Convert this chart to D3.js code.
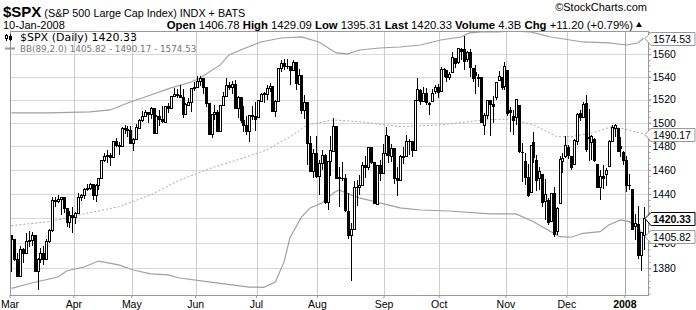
<!DOCTYPE html>
<html>
<head>
<meta charset="utf-8">
<script src="https://cdn.jsdelivr.net/npm/d3@7/dist/d3.min.js"></script>
<style>
  body { margin: 0; background: #fff; }
  svg { display: block; }
  text { font-family: "Liberation Sans", Arial, sans-serif; }
</style>
</head>
<body>
<svg id="chart" width="696" height="310"></svg>
<script>
// trading days, Mar 2007 - Jan 10 2008
var dates = [
  "2007-03-01","2007-03-02","2007-03-05","2007-03-06","2007-03-07","2007-03-08","2007-03-09","2007-03-12","2007-03-13","2007-03-14","2007-03-15","2007-03-16","2007-03-19","2007-03-20","2007-03-21","2007-03-22","2007-03-23","2007-03-26","2007-03-27","2007-03-28","2007-03-29","2007-03-30",
  "2007-04-02","2007-04-03","2007-04-04","2007-04-05","2007-04-09","2007-04-10","2007-04-11","2007-04-12","2007-04-13","2007-04-16","2007-04-17","2007-04-18","2007-04-19","2007-04-20","2007-04-23","2007-04-24","2007-04-25","2007-04-26","2007-04-27","2007-04-30",
  "2007-05-01","2007-05-02","2007-05-03","2007-05-04","2007-05-07","2007-05-08","2007-05-09","2007-05-10","2007-05-11","2007-05-14","2007-05-15","2007-05-16","2007-05-17","2007-05-18","2007-05-21","2007-05-22","2007-05-23","2007-05-24","2007-05-25","2007-05-29","2007-05-30","2007-05-31",
  "2007-06-01","2007-06-04","2007-06-05","2007-06-06","2007-06-07","2007-06-08","2007-06-11","2007-06-12","2007-06-13","2007-06-14","2007-06-15","2007-06-18","2007-06-19","2007-06-20","2007-06-21","2007-06-22","2007-06-25","2007-06-26","2007-06-27","2007-06-28","2007-06-29",
  "2007-07-02","2007-07-03","2007-07-05","2007-07-06","2007-07-09","2007-07-10","2007-07-11","2007-07-12","2007-07-13","2007-07-16","2007-07-17","2007-07-18","2007-07-19","2007-07-20","2007-07-23","2007-07-24","2007-07-25","2007-07-26","2007-07-27","2007-07-30","2007-07-31",
  "2007-08-01","2007-08-02","2007-08-03","2007-08-06","2007-08-07","2007-08-08","2007-08-09","2007-08-10","2007-08-13","2007-08-14","2007-08-15","2007-08-16","2007-08-17","2007-08-20","2007-08-21","2007-08-22","2007-08-23","2007-08-24","2007-08-27","2007-08-28","2007-08-29","2007-08-30","2007-08-31",
  "2007-09-04","2007-09-05","2007-09-06","2007-09-07","2007-09-10","2007-09-11","2007-09-12","2007-09-13","2007-09-14","2007-09-17","2007-09-18","2007-09-19","2007-09-20","2007-09-21","2007-09-24","2007-09-25","2007-09-26","2007-09-27","2007-09-28",
  "2007-10-01","2007-10-02","2007-10-03","2007-10-04","2007-10-05","2007-10-08","2007-10-09","2007-10-10","2007-10-11","2007-10-12","2007-10-15","2007-10-16","2007-10-17","2007-10-18","2007-10-19","2007-10-22","2007-10-23","2007-10-24","2007-10-25","2007-10-26","2007-10-29","2007-10-30","2007-10-31",
  "2007-11-01","2007-11-02","2007-11-05","2007-11-06","2007-11-07","2007-11-08","2007-11-09","2007-11-12","2007-11-13","2007-11-14","2007-11-15","2007-11-16","2007-11-19","2007-11-20","2007-11-21","2007-11-23","2007-11-26","2007-11-27","2007-11-28","2007-11-29","2007-11-30",
  "2007-12-03","2007-12-04","2007-12-05","2007-12-06","2007-12-07","2007-12-10","2007-12-11","2007-12-12","2007-12-13","2007-12-14","2007-12-17","2007-12-18","2007-12-19","2007-12-20","2007-12-21","2007-12-24","2007-12-26","2007-12-27","2007-12-28","2007-12-31",
  "2008-01-02","2008-01-03","2008-01-04","2008-01-07","2008-01-08","2008-01-09","2008-01-10"
];

var opens = [
  1406.80,1403.16,1387.11,1374.06,1395.02,1391.88,1401.89,1402.80,1406.23,1377.86,1387.11,1392.28,1386.95,1402.04,1410.92,1435.04,1434.54,1436.11,1437.49,1428.35,1417.17,1422.52,
  1420.83,1424.27,1437.75,1438.94,1443.77,1444.58,1448.23,1438.87,1447.80,1452.84,1468.47,1471.47,1472.48,1470.69,1484.33,1480.93,1480.44,1495.27,1494.21,1494.07,
  1482.37,1486.13,1495.56,1502.35,1505.57,1509.36,1507.32,1512.33,1491.47,1505.76,1503.11,1500.75,1514.01,1512.74,1522.75,1525.10,1524.09,1522.10,1507.50,1515.55,1517.60,1530.19,
  1530.62,1536.28,1539.12,1530.57,1517.36,1490.71,1507.64,1509.12,1492.65,1515.58,1522.97,1532.90,1531.02,1533.68,1512.50,1522.19,1502.56,1497.68,1492.62,1506.32,1505.70,
  1504.66,1519.12,1524.86,1524.96,1530.43,1531.85,1509.93,1518.74,1547.68,1552.50,1549.52,1549.20,1546.13,1553.19,1534.06,1541.57,1511.03,1518.09,1482.44,1458.93,1473.90,
  1455.18,1465.46,1472.18,1433.04,1467.62,1476.22,1497.21,1453.09,1453.42,1452.87,1426.15,1406.64,1411.26,1445.94,1445.55,1447.03,1464.05,1462.34,1479.36,1466.72,1432.01,1463.67,1457.61,
  1473.96,1488.76,1472.03,1478.55,1453.50,1451.69,1471.10,1471.47,1483.95,1484.24,1476.63,1519.75,1528.69,1518.75,1525.75,1516.34,1518.62,1527.32,1531.24,
  1527.29,1546.96,1545.80,1539.91,1543.84,1556.51,1553.18,1564.98,1564.72,1555.41,1562.25,1547.81,1544.44,1539.29,1540.00,1497.79,1506.33,1519.59,1516.15,1522.17,1536.92,1539.42,1532.15,
  1545.79,1511.07,1505.61,1505.33,1515.46,1475.27,1467.59,1453.66,1441.35,1483.40,1468.04,1453.09,1456.70,1434.51,1434.71,1417.62,1440.74,1409.59,1432.95,1467.41,1471.83,
  1479.63,1471.34,1465.22,1484.59,1508.60,1505.11,1516.68,1487.58,1483.27,1486.19,1465.05,1445.92,1454.70,1456.42,1463.19,1484.55,1495.12,1495.05,1479.83,1475.25,
  1467.97,1447.55,1444.01,1414.07,1415.71,1390.25,1406.78
];

var highs = [
  1406.80,1403.40,1391.86,1397.90,1396.10,1407.93,1410.15,1409.34,1406.23,1388.09,1395.73,1397.51,1403.20,1411.53,1437.77,1437.66,1438.89,1437.65,1437.49,1428.35,1426.24,1429.22,
  1425.49,1440.57,1440.16,1444.88,1448.10,1448.73,1448.39,1448.02,1453.11,1468.62,1474.35,1476.57,1474.23,1484.74,1487.32,1483.82,1496.59,1498.02,1497.32,1497.16,
  1487.27,1499.10,1503.34,1510.34,1511.00,1509.36,1513.80,1512.33,1506.24,1510.90,1514.83,1514.15,1517.14,1522.75,1529.87,1529.24,1532.43,1529.31,1517.41,1521.80,1530.23,1535.56,
  1540.56,1540.53,1539.12,1530.57,1517.36,1507.76,1515.53,1511.33,1515.70,1526.45,1538.71,1535.44,1535.85,1537.32,1522.90,1522.19,1514.29,1506.12,1506.80,1514.84,1517.53,
  1519.45,1526.01,1526.57,1532.40,1534.26,1531.85,1519.34,1547.92,1555.10,1555.90,1555.32,1549.20,1555.20,1553.19,1547.23,1541.57,1524.31,1518.09,1488.53,1477.88,1488.30,
  1468.38,1476.43,1473.23,1467.67,1488.30,1503.89,1497.21,1462.02,1466.29,1456.74,1440.78,1415.97,1450.33,1451.75,1455.32,1466.29,1472.06,1479.40,1479.36,1466.72,1463.76,1468.43,1481.47,
  1496.40,1488.76,1481.49,1478.55,1462.25,1472.48,1479.50,1489.58,1485.99,1484.24,1519.89,1538.74,1529.14,1530.89,1530.18,1518.27,1529.39,1532.46,1533.74,
  1549.02,1548.01,1545.84,1544.02,1561.91,1556.51,1565.26,1565.42,1576.09,1563.03,1564.74,1547.81,1550.66,1542.79,1540.00,1508.06,1520.01,1519.59,1523.24,1535.53,1544.67,1539.42,1552.76,
  1545.79,1513.15,1510.84,1520.77,1515.46,1482.50,1474.09,1464.94,1481.37,1492.14,1472.67,1462.18,1456.70,1452.64,1436.40,1440.86,1446.09,1429.49,1471.62,1473.81,1488.94,
  1481.16,1471.34,1486.09,1508.02,1510.63,1518.27,1523.57,1511.96,1489.40,1486.67,1465.05,1460.16,1464.42,1461.53,1485.40,1497.63,1498.85,1495.05,1488.01,1475.83,
  1471.77,1456.80,1444.01,1423.87,1430.28,1409.19,1429.09
];

var lows = [
  1377.71,1386.87,1373.97,1374.06,1385.16,1391.88,1397.30,1398.40,1377.71,1363.98,1385.16,1383.63,1386.95,1400.70,1409.75,1429.88,1433.21,1423.28,1425.54,1414.07,1413.27,1408.90,
  1416.33,1424.27,1435.08,1436.67,1443.28,1443.99,1436.15,1433.91,1444.15,1452.84,1467.15,1466.41,1464.47,1470.69,1480.19,1473.74,1480.44,1491.17,1488.67,1482.29,
  1476.70,1486.13,1495.56,1501.80,1505.54,1500.66,1503.77,1491.42,1491.47,1498.34,1500.43,1500.75,1509.29,1512.74,1522.71,1522.05,1521.90,1505.18,1507.50,1515.02,1510.06,1528.26,
  1530.62,1532.31,1525.62,1514.13,1490.37,1487.41,1503.35,1492.97,1492.65,1515.58,1522.97,1529.31,1525.67,1512.36,1504.75,1500.74,1492.68,1490.54,1484.18,1503.41,1493.61,
  1504.66,1519.12,1517.72,1520.47,1527.45,1510.01,1506.10,1518.74,1544.85,1546.69,1547.74,1533.67,1546.13,1529.20,1534.06,1508.62,1503.73,1465.30,1458.95,1454.32,1454.25,
  1439.59,1460.58,1432.80,1427.39,1455.80,1476.22,1453.09,1429.74,1451.54,1426.20,1404.36,1370.60,1411.26,1430.54,1439.76,1447.03,1453.88,1460.33,1465.98,1432.27,1432.01,1451.25,1457.61,
  1472.15,1466.34,1467.41,1449.07,1439.29,1451.69,1465.75,1471.47,1473.18,1471.82,1476.63,1519.75,1516.42,1518.75,1516.15,1507.13,1518.62,1525.81,1521.99,
  1527.25,1540.37,1536.34,1537.63,1543.84,1549.00,1551.82,1555.46,1546.72,1554.09,1540.81,1536.29,1526.01,1531.76,1500.26,1490.40,1503.61,1489.56,1500.46,1520.18,1536.92,1529.55,1529.40,
  1506.66,1492.53,1489.95,1499.07,1475.04,1450.31,1448.51,1438.53,1441.35,1466.47,1443.49,1443.99,1430.42,1419.28,1415.64,1417.62,1406.10,1407.43,1432.95,1458.36,1470.89,
  1470.08,1460.66,1465.22,1482.19,1502.66,1504.96,1475.99,1468.23,1469.21,1467.78,1445.43,1435.65,1445.31,1447.22,1463.19,1484.55,1488.20,1475.86,1471.70,1465.13,
  1442.07,1443.73,1411.19,1403.45,1388.30,1378.70,1395.31
];

var closes = [
  1403.17,1387.17,1374.12,1395.41,1391.97,1401.89,1402.84,1406.60,1377.95,1387.17,1392.28,1386.95,1402.06,1410.94,1435.04,1434.54,1436.11,1437.50,1428.61,1417.23,1422.53,1420.86,
  1424.55,1437.77,1439.37,1443.76,1444.61,1448.39,1438.87,1447.80,1452.85,1468.33,1471.48,1472.50,1470.73,1484.35,1480.93,1480.41,1495.42,1494.25,1494.07,1482.37,
  1486.30,1495.92,1502.39,1505.62,1509.48,1507.72,1512.58,1491.47,1505.85,1503.15,1501.19,1514.14,1512.75,1522.75,1525.10,1524.12,1522.28,1507.51,1515.73,1518.11,1530.23,1530.62,
  1536.34,1539.18,1530.95,1517.38,1490.72,1507.67,1509.12,1493.00,1515.67,1522.97,1532.91,1531.05,1533.70,1512.84,1522.19,1502.56,1497.74,1492.89,1506.34,1505.71,1503.35,
  1519.43,1524.87,1525.40,1530.44,1531.85,1510.12,1518.76,1547.70,1552.50,1549.52,1549.37,1546.17,1553.08,1534.10,1541.57,1511.04,1518.09,1482.66,1458.95,1473.91,1455.27,
  1465.81,1472.20,1433.06,1467.67,1476.71,1497.49,1453.09,1453.64,1452.92,1426.54,1406.70,1411.27,1445.94,1445.55,1447.12,1464.07,1462.50,1479.37,1466.79,1432.36,1463.76,1457.64,1473.99,
  1489.42,1472.29,1478.55,1453.55,1451.70,1471.49,1471.56,1483.95,1484.25,1476.65,1519.78,1529.03,1518.75,1525.75,1517.73,1517.21,1525.42,1531.38,1526.75,
  1547.04,1546.63,1539.59,1542.84,1557.59,1552.58,1565.15,1562.47,1554.41,1561.80,1548.71,1538.53,1541.24,1540.08,1500.63,1506.33,1519.59,1515.88,1514.40,1535.28,1540.98,1531.02,1549.38,
  1508.44,1509.65,1502.17,1520.27,1475.62,1474.77,1453.70,1439.18,1481.05,1470.58,1451.15,1458.74,1433.27,1439.70,1416.77,1440.70,1407.22,1428.23,1469.02,1469.72,1481.14,
  1472.42,1462.79,1485.01,1507.34,1504.66,1515.96,1477.65,1486.59,1488.41,1467.95,1445.90,1454.98,1453.00,1460.12,1484.46,1496.45,1497.66,1476.27,1478.49,1468.36,
  1447.16,1447.16,1411.63,1416.18,1390.19,1409.13,1420.33
];

// Bollinger bands (89, 2.0)
var bbUpperDates = ["2007-03-01","2007-03-20","2007-04-10","2007-04-19","2007-04-30","2007-05-09","2007-05-18","2007-05-30","2007-06-04","2007-06-13","2007-06-18","2007-06-22","2007-07-03","2007-07-13","2007-07-24","2007-08-01","2007-08-09","2007-08-15","2007-08-21","2007-08-30","2007-09-11","2007-09-20","2007-10-01","2007-10-10","2007-10-15","2007-10-19","2007-10-29","2007-11-02","2007-11-13","2007-11-23","2007-12-10","2007-12-21","2008-01-02","2008-01-08","2008-01-10"];
var bbUpper = [1508.4,1508.4,1509.3,1511.0,1517.9,1524.0,1530.2,1535.4,1538.9,1550.5,1559.4,1563.8,1571.0,1574.6,1575.5,1571.0,1561.2,1560.3,1563.8,1565.6,1566.5,1568.3,1572.8,1575.5,1579.2,1580.1,1580.1,1581.0,1580.1,1575.5,1571.0,1570.1,1568.3,1570.1,1574.53];

var bbMiddleDates = ["2007-03-01","2007-03-20","2007-04-05","2007-04-24","2007-05-09","2007-05-23","2007-06-11","2007-06-26","2007-07-06","2007-07-18","2007-07-26","2007-08-08","2007-08-21","2007-09-11","2007-10-01","2007-10-22","2007-11-02","2007-11-14","2007-11-27","2007-12-04","2007-12-13","2007-12-24","2008-01-03","2008-01-10"];
var bbMiddle = [1414.1,1417.3,1423.6,1429.5,1439.2,1451.6,1462.4,1470.8,1476.8,1487.8,1498.1,1502.4,1500.9,1496.6,1498.1,1502.4,1503.2,1498.1,1488.1,1488.1,1491.0,1496.6,1493.8,1490.17];

var bbLowerDates = ["2007-03-01","2007-03-12","2007-03-23","2007-03-28","2007-04-05","2007-04-13","2007-04-24","2007-05-01","2007-05-09","2007-05-17","2007-05-23","2007-06-07","2007-06-27","2007-07-05","2007-07-11","2007-07-16","2007-07-18","2007-07-24","2007-07-27","2007-08-02","2007-08-08","2007-08-10","2007-08-16","2007-08-21","2007-08-30","2007-09-11","2007-09-20","2007-10-04","2007-10-24","2007-11-06","2007-11-14","2007-11-26","2007-11-28","2007-12-04","2007-12-10","2007-12-18","2007-12-21","2007-12-28","2008-01-03","2008-01-08","2008-01-10"];
var bbLower = [1364.2,1368.4,1373.1,1377.8,1381.0,1385.7,1382.6,1378.6,1375.5,1374.7,1372.3,1369.2,1365.2,1365.0,1369.2,1385.0,1404.1,1421.1,1428.5,1432.6,1440.8,1443.3,1439.2,1436.7,1432.6,1428.5,1426.8,1426.0,1423.6,1423.6,1417.3,1407.9,1405.2,1404.7,1407.9,1409.2,1414.6,1418.7,1417.3,1413.0,1405.82];

var yTicks = [1380, 1400, 1420, 1440, 1460, 1480, 1500, 1520, 1540, 1560];
var monthTicks = ["2007-03-01","2007-04-02","2007-05-01","2007-06-01","2007-07-02","2007-08-01","2007-09-04","2007-10-01","2007-11-01","2007-12-03","2008-01-02"];
var monthLabels = ["Mar","Apr","May","Jun","Jul","Aug","Sep","Oct","Nov","Dec","2008"];

// last values shown in the boxes on the right
var lastUpper = 1574.53, lastMiddle = 1490.17, lastLower = 1405.82, lastClose = 1420.33;

[opens, highs, lows, closes].forEach(function(a) {
  if (a.length !== dates.length) throw new Error("length mismatch " + a.length + " vs " + dates.length);
});

// ---- layout ----
var plotL = 10, plotR = 649, plotT = 32, plotB = 295;
var svg = d3.select("#chart");

var x = d3.scaleBand().domain(dates).range([plotL, plotL + 2.9 * dates.length]);
var y = d3.scaleLog().domain([1359, 1580]).range([plotB, plotT]);

function px(v) { return Math.round(v) + 0.5; }
function mid(d) { return Math.round(x(d) + x.bandwidth() / 2); }

svg.append("rect").attr("width", 696).attr("height", 310).attr("fill", "#fff");

svg.append("defs").append("clipPath").attr("id", "plot")
  .append("rect").attr("x", plotL).attr("y", plotT).attr("width", plotR - plotL).attr("height", plotB - plotT);

// grid
svg.append("g").selectAll("line").data(yTicks).enter().append("line")
  .attr("x1", plotL).attr("x2", plotR)
  .attr("y1", function(d) { return px(y(d)); })
  .attr("y2", function(d) { return px(y(d)); })
  .attr("stroke", "#d9d9d9");

svg.append("g").selectAll("line").data(monthTicks).enter().append("line")
  .attr("x1", function(d) { return px(x(d)); })
  .attr("x2", function(d) { return px(x(d)); })
  .attr("y1", plotT).attr("y2", plotB)
  .attr("stroke", function(d, i) { return i === monthTicks.length - 1 ? "#aaa" : "#cccccc"; });

// bands
var plot = svg.append("g").attr("clip-path", "url(#plot)");
function bandLine(ds, vs) {
  return d3.line()
    .x(function(d) { return x(d) + x.bandwidth() / 2; })
    .y(function(d, i) { return y(vs[i]); })(ds);
}
plot.append("path").attr("d", bandLine(bbUpperDates, bbUpper))
  .attr("fill", "none").attr("stroke", "#a0a0a0").attr("stroke-width", 1.2);
plot.append("path").attr("d", bandLine(bbLowerDates, bbLower))
  .attr("fill", "none").attr("stroke", "#a0a0a0").attr("stroke-width", 1.2);
plot.append("path").attr("d", bandLine(bbMiddleDates, bbMiddle))
  .attr("fill", "none").attr("stroke", "#aaa").attr("stroke-width", 1).attr("stroke-dasharray", "2,2");

// candles
var candles = plot.append("g").selectAll("g").data(dates).enter().append("g");
candles.append("line")
  .attr("x1", function(d) { return mid(d) + 0.5; })
  .attr("x2", function(d) { return mid(d) + 0.5; })
  .attr("y1", function(d, i) { return Math.round(y(highs[i])); })
  .attr("y2", function(d, i) { return Math.round(y(lows[i])) + 1; })
  .attr("stroke", "#000").attr("shape-rendering", "crispEdges");
candles.append("rect")
  .attr("x", function(d) { return mid(d) - 0.5; })
  .attr("y", function(d, i) { return Math.round(y(Math.max(opens[i], closes[i]))) + 0.5; })
  .attr("width", 2)
  .attr("height", function(d, i) {
    var h = Math.round(y(Math.min(opens[i], closes[i]))) - Math.round(y(Math.max(opens[i], closes[i])));
    return Math.max(h, 0.01);
  })
  .attr("fill", function(d, i) { return closes[i] >= opens[i] ? "#fff" : "#000"; })
  .attr("stroke", "#000").attr("stroke-width", 1);

// frame
svg.append("rect").attr("x", plotL + 0.5).attr("y", plotT - 0.5).attr("width", plotR - plotL - 1).attr("height", plotB - plotT + 1)
  .attr("fill", "none").attr("stroke", "#999");

// right axis (the 1420 label sits under the last-close box, so it is not written)
var minor = d3.range(1360, 1581, 5);
svg.append("g").attr("transform", "translate(" + (plotR - 0.5) + ",0)")
  .call(d3.axisRight(y).tickValues(minor).tickSize(2).tickFormat(""))
  .call(function(g) { g.select(".domain").remove(); g.selectAll("line").attr("stroke", "#999"); });
var ya = svg.append("g").attr("transform", "translate(" + (plotR - 0.5) + ",0)")
  .call(d3.axisRight(y).tickValues(yTicks).tickSize(3).tickPadding(1)
    .tickFormat(function(d) { return d === 1420 ? "" : d3.format("d")(d); }));
ya.select(".domain").remove();
ya.selectAll("line").attr("stroke", "#999");
ya.selectAll("text").attr("fill", "#000").style("font-size", "10.5px").style("font-family", "'Liberation Sans', Arial, sans-serif");

// bottom axis
var xa = svg.append("g").attr("transform", "translate(" + (-x.bandwidth() / 2) + "," + plotB + ")")
  .call(d3.axisBottom(x).tickValues(monthTicks).tickSize(3).tickPadding(3)
    .tickFormat(function(d, i) { return monthLabels[i]; }));
xa.select(".domain").remove();
xa.selectAll("line").attr("stroke", "#999");
xa.selectAll("text").attr("fill", "#000").style("font-size", "10.5px")
  .style("font-family", "'Liberation Sans', Arial, sans-serif")
  .style("font-weight", function(d, i) { return i === monthTicks.length - 1 ? "bold" : "normal"; });

// value boxes on the right
function valueBox(v, bold) {
  var cy = Math.round(y(v)) + 0.5;
  var x0 = plotR - 4, w = 44;
  svg.append("path")
    .attr("d", "M" + x0 + "," + cy + "L" + (x0 + 6) + "," + (cy - 6) + "H" + (x0 + 6 + w) + "V" + (cy + 7) + "H" + (x0 + 6) + "Z")
    .attr("fill", "#fff").attr("stroke", bold ? "#000" : "#999").attr("stroke-width", 1);
  svg.append("text").attr("x", x0 + 8).attr("y", cy + 4)
    .style("font-size", "10.5px").style("font-weight", bold ? "bold" : "normal")
    .text(d3.format(".2f")(v));
}
valueBox(lastUpper, false);
valueBox(lastMiddle, false);
valueBox(lastLower, false);
valueBox(lastClose, true);

// header
var h1 = svg.append("text").attr("x", 3).attr("y", 17);
h1.append("tspan").style("font-weight", "bold").style("font-size", "15px").text("$SPX");
h1.append("tspan").style("font-size", "10.8px").text(" (S&P 500 Large Cap Index) INDX + BATS");

svg.append("text").attr("x", 647).attr("y", 11).attr("text-anchor", "end")
  .style("font-size", "11px").text("\u00a9StockCharts.com");

svg.append("text").attr("x", 3).attr("y", 29).style("font-size", "11px").text("10-Jan-2008");

var h2 = svg.append("text").attr("x", 633).attr("y", 29).attr("text-anchor", "end").style("font-size", "11.3px");
[["Open", "1406.78"], ["High", "1429.09"], ["Low", "1395.31"], ["Last", "1420.33"], ["Volume", "4.3B"], ["Chg", "+11.20 (+0.79%)"]]
  .forEach(function(p, i) {
    h2.append("tspan").style("font-weight", "bold").text((i ? " " : "") + p[0]);
    h2.append("tspan").text(" " + p[1]);
  });
svg.append("path").attr("d", "M636,27L639,22L642,27Z").attr("fill", "#000");

// legend inside plot
var lg = svg.append("g");
lg.append("line").attr("x1", 6.5).attr("x2", 6.5).attr("y1", 34).attr("y2", 41).attr("stroke", "#000");
lg.append("rect").attr("x", 5.5).attr("y", 35.5).attr("width", 2).attr("height", 3).attr("fill", "#fff").attr("stroke", "#000");
lg.append("line").attr("x1", 10.5).attr("x2", 10.5).attr("y1", 34).attr("y2", 41).attr("stroke", "#000");
lg.append("rect").attr("x", 9.5).attr("y", 36.5).attr("width", 2).attr("height", 3).attr("fill", "#000").attr("stroke", "#000");
lg.append("text").attr("x", 20).attr("y", 41)
  .style("font-family", "'DejaVu Sans', sans-serif").style("font-size", "11px")
  .text("$SPX (Daily) 1420.33");
lg.append("line").attr("x1", 5).attr("x2", 15).attr("y1", 48.5).attr("y2", 48.5).attr("stroke", "#999").attr("stroke-width", 2);
lg.append("text").attr("x", 20).attr("y", 52)
  .style("font-family", "'DejaVu Sans', sans-serif").style("font-size", "8.8px").attr("fill", "#777")
  .text("BB(89,2.0) 1405.82 - 1490.17 - 1574.53");
</script>
</body>
</html>
